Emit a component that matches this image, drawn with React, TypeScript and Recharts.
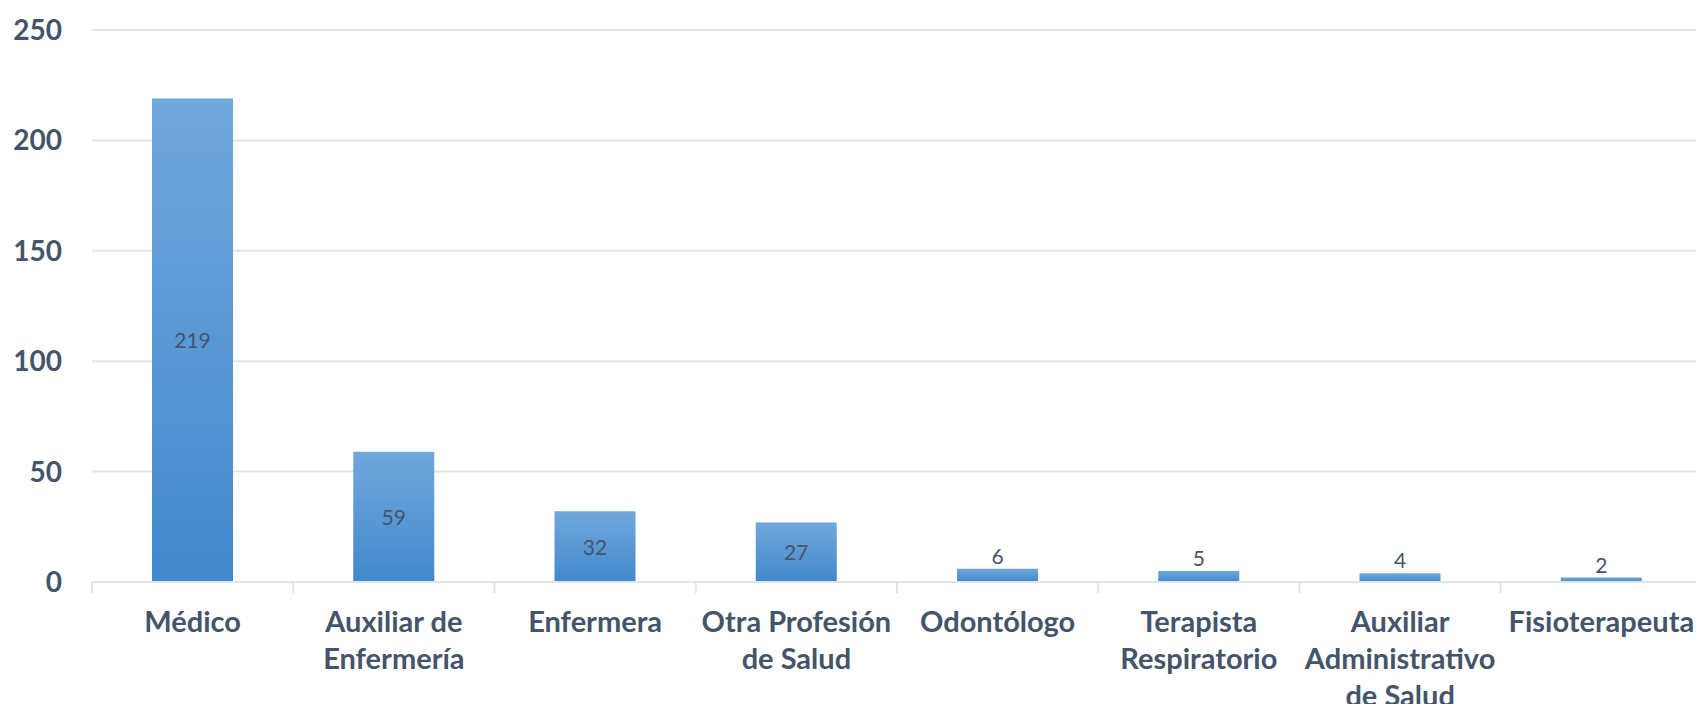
import { BarChart, Bar, XAxis, YAxis, CartesianGrid, LabelList } from "recharts";

const CATEGORIES = [
  "Médico",
  "Auxiliar de\nEnfermería",
  "Enfermera",
  "Otra Profesión\nde Salud",
  "Odontólogo",
  "Terapista\nRespiratorio",
  "Auxiliar\nAdministrativo\nde Salud",
  "Fisioterapeuta",
];
const VALUES = [219, 59, 32, 27, 6, 5, 4, 2];
const Y_TICKS = [0, 50, 100, 150, 200, 250];

const TEXT = "#44546A";
const GRID = "#E1E5EA";
const FONT = "Lato, 'Open Sans', sans-serif";

const data = CATEGORIES.map((name, i) => ({ name, value: VALUES[i] }));

function CategoryTick(props: any) {
  const { x, y, payload, index, visibleTicksCount } = props;
  const half = payload.offset ?? 0;
  const lines = String(payload.value).split("\n");
  return (
    <g>
      <line x1={x - half} x2={x - half} y1={y} y2={y + 11} stroke={GRID} strokeWidth={2} />
      {index === visibleTicksCount - 1 && (
        <line x1={x + half} x2={x + half} y1={y} y2={y + 11} stroke={GRID} strokeWidth={2} />
      )}
      <text x={x} y={y + 50} textAnchor="middle" fill={TEXT} fontFamily={FONT} fontWeight={700} fontSize={29}>
        {lines.map((l, k) => (
          <tspan key={k} x={x} dy={k === 0 ? 0 : 37}>{l}</tspan>
        ))}
      </text>
    </g>
  );
}

function ValueLabel(props: any) {
  const { x, y, width, height, value } = props;
  const inside = height > 40;
  return (
    <text
      x={x + width / 2}
      y={inside ? y + height / 2 + 8 : y - 5}
      textAnchor="middle"
      fill={TEXT}
      fontFamily={FONT}
      fontSize={21}
    >
      {value}
    </text>
  );
}

export default function App() {
  return (
    <div style={{ margin: -8, width: 1704, height: 712, background: "#fff" }}>
      <BarChart width={1704} height={712} data={data} margin={{ top: 30, right: 2, left: 0, bottom: 0 }}>
        <defs>
          <linearGradient id="barFill" x1="0" y1="0" x2="0" y2="1">
            <stop offset="0%" stopColor="#71A8DC" />
            <stop offset="100%" stopColor="#4288CD" />
          </linearGradient>
        </defs>
        <CartesianGrid vertical={false} stroke={GRID} strokeWidth={2} />
        <XAxis
          dataKey="name"
          interval={0}
          height={130}
          tickLine={false}
          tickSize={0}
          tickMargin={0}
          axisLine={{ stroke: GRID, strokeWidth: 2 }}
          tick={<CategoryTick />}
        />
        <YAxis
          width={92}
          domain={[0, 250]}
          ticks={Y_TICKS}
          axisLine={false}
          tickLine={false}
          tickSize={0}
          tickMargin={30}
          tick={{ fill: TEXT, fontFamily: FONT, fontWeight: 700, fontSize: 28 }}
        />
        <Bar dataKey="value" fill="url(#barFill)" barSize={81} isAnimationActive={false}>
          <LabelList dataKey="value" content={<ValueLabel />} />
        </Bar>
      </BarChart>
    </div>
  );
}
